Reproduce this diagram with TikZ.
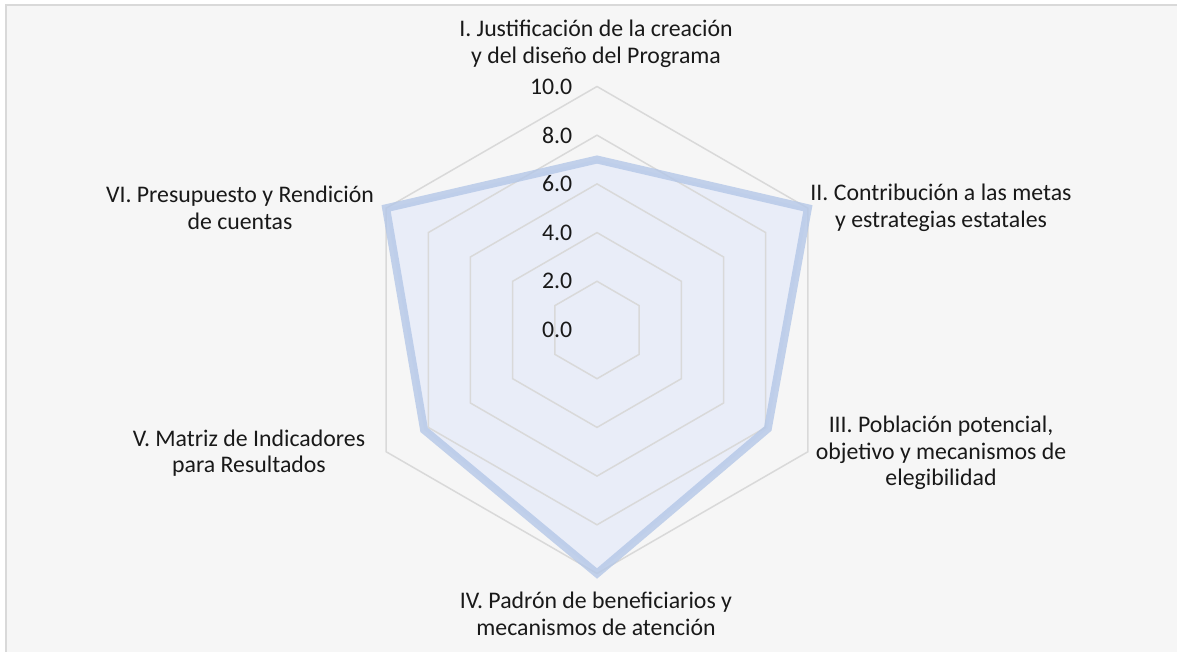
\documentclass[tikz,border=0pt]{standalone}
\usepackage{fontspec}
\setmainfont{Carlito}
\usetikzlibrary{calc}

\definecolor{gridgray}{RGB}{217,217,217}
\definecolor{bggray}{RGB}{246,246,246}
\definecolor{framegray}{RGB}{217,217,217}
\definecolor{datafill}{RGB}{233,237,248}
\definecolor{dataline}{RGB}{180,199,231}

\tikzset{
  grid line/.style={gridgray, line width=0.75pt},
  axis label/.style={align=center, inner sep=0pt, font=\fontsize{11.9}{13.3}\selectfont, text=black!90},
  tick label/.style={anchor=east, inner sep=0pt, font=\fontsize{11.9}{13.3}\selectfont, text=black!90},
  data fill/.style={fill=datafill},
  data line/.style={draw=dataline, line width=4pt, line join=miter, opacity=0.8}
}

\begin{document}
\begin{tikzpicture}[x=0.5pt,y=0.5pt]
% Background and frame
\clip (0,0) rectangle (1177,652);
\fill[white] (0,0) rectangle (1177,652);
\draw[framegray, fill=bggray, line width=1pt] (6,-20) rectangle (1200,647);

\begin{scope}[shift={(597,322)}, x=12.175pt, y=12.175pt]
\coordinate (O) at (0,0);

% Data points
\coordinate (pI) at (90:7.0);
\coordinate (pII) at (30:10);
\coordinate (pIII) at (-30:8.1);
\coordinate (pIV) at (-90:10);
\coordinate (pV) at (-150:8.2);
\coordinate (pVI) at (150:10);

% Area
\fill[data fill] (pI) -- (pII) -- (pIII) -- (pIV) -- (pV) -- (pVI) -- cycle;

% Grid
\foreach \r in {2,4,...,10}
  \draw[grid line] (90:\r) -- (30:\r) -- (-30:\r) -- (-90:\r) -- (-150:\r) -- (150:\r) -- cycle;

% Outline
\draw[data line] (pI) -- (pII) -- (pIII) -- (pIV) -- (pV) -- (pVI) -- cycle;

% Scale labels
\foreach \v in {0,2,...,10}
  \node[tick label] (t\v) at ($(O)+(-1,\v)$) {\v.0};
\end{scope}

% Axis labels
\node[axis label] (lblI) at (596,608) {I. Justificación de la creación\\y del diseño del Programa};
\node[axis label] (lblII) at (941,444) {II. Contribución a las metas\\y estrategias estatales};
\node[axis label] (lblIII) at (941,199) {III. Población potencial,\\objetivo y mecanismos de\\elegibilidad};
\node[axis label] (lblIV) at (596,38) {IV. Padrón de beneficiarios y\\mecanismos de atención};
\node[axis label] (lblV) at (249,199) {V. Matriz de Indicadores\\para Resultados};
\node[axis label] (lblVI) at (240,444) {VI. Presupuesto y Rendición\\de cuentas};
\end{tikzpicture}
\end{document}
